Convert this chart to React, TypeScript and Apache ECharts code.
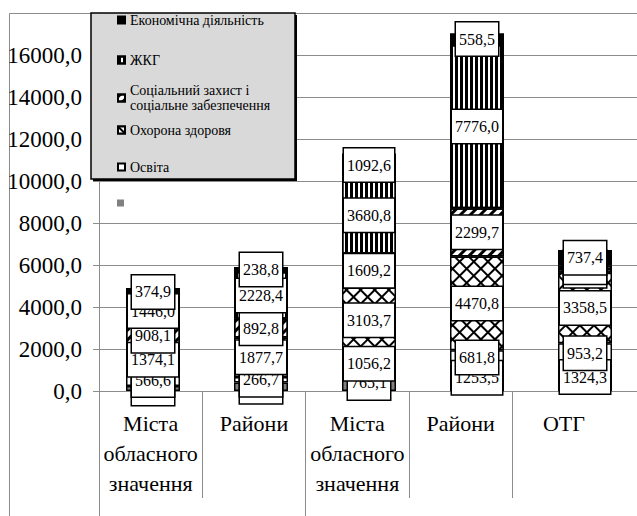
import React, { useEffect, useRef } from 'react';
import * as echarts from 'echarts';

const categories = ['Міста\nобласного\nзначення', 'Райони', 'Міста\nобласного\nзначення', 'Райони', 'ОТГ'];
const seriesNames = [
  'Інші видатки',
  'Освіта',
  'Охорона здоровя',
  'Соціальний захист і соціальне забезпечення',
  'ЖКГ',
  'Економічна діяльність',
];
const otherValues = [235, 400, 765.1, 1253.5, 1324.3];
const educationValues = [566.6, 266.7, 1056.2, 681.8, 953.2];
const healthValues = [1374.1, 1877.7, 3103.7, 4470.8, 3358.5];
const socialValues = [908.1, 892.8, 1609.2, 2299.7, 173.0];
const housingValues = [1446.0, 2228.4, 3680.8, 7776.0, 172.7];
const economyValues = [374.9, 238.8, 1092.6, 558.5, 737.4];
const yMin = 0;
const yMax = 18000;
const yStep = 2000;

const FONT = 'Liberation Serif';
const GREY = '#8c8c8c';

const fmt = (v: number) => v.toFixed(1).replace('.', ',');

export default function App() {
  const ref = useRef<HTMLDivElement>(null);

  useEffect(() => {
    if (!ref.current) return;
    const chart = echarts.init(ref.current, undefined, { renderer: 'svg' });

    const labelStyle = {
      show: true,
      position: 'inside',
      formatter: (p: any) => fmt(p.value),
      fontFamily: FONT,
      fontSize: 16,
      lineHeight: 17,
      color: '#000',
      textBorderWidth: 0,
      backgroundColor: '#fff',
      borderColor: '#000',
      borderWidth: 1.5,
      padding: [8, 3, 8, 3],
    };

    const styles: any[] = [
      { color: '#808080' },
      { color: '#ffffff' },
      {
        color: '#000000',
        decal: {
          symbol: 'rect',
          symbolSize: 0.8,
          color: '#ffffff',
          dashArrayX: [10, 0],
          dashArrayY: [10, 0],
          rotation: Math.PI / 4,
        },
      },
      {
        color: '#ffffff',
        decal: {
          symbol: 'rect',
          symbolSize: 1,
          color: '#000000',
          dashArrayX: [10, 0],
          dashArrayY: [3, 4],
          rotation: -Math.PI / 4,
        },
      },
      {
        color: '#ffffff',
        decal: {
          symbol: 'rect',
          symbolSize: 1,
          color: '#000000',
          dashArrayX: [2.2, 1.8],
          dashArrayY: [10, 0],
          rotation: 0,
        },
      },
      { color: '#000000' },
    ];
    const dataSets = [otherValues, educationValues, healthValues, socialValues, housingValues, economyValues];

    const series = seriesNames.map((name, i) => ({
      type: 'bar',
      name,
      data: dataSets[i],
      stack: 'total',
      barWidth: 54,
      xAxisIndex: 0,
      yAxisIndex: 0,
      itemStyle: { borderColor: '#000', borderWidth: 1.5, ...styles[i] },
      label: labelStyle,
    }));

    const legendBase = {
      left: 117,
      orient: 'vertical',
      padding: 0,
      itemWidth: 7,
      itemHeight: 7,
      icon: 'rect',
      selectedMode: false,
      textStyle: { fontFamily: FONT, fontSize: 14, lineHeight: 15, color: '#000' },
    };

    const legendTops = [12.5, 52.5, 75.5, 122.5, 159.5, 199.5];
    const legendOrder = [5, 4, 3, 2, 1, 0];
    const legends = legendOrder.map((si, k) => {
      const l: any = { ...legendBase, data: [seriesNames[si]], top: legendTops[k] };
      if (si === 3) {
        l.formatter = (n: string) => n.replace(' і ', ' і\n');
        l.textStyle = { ...legendBase.textStyle, padding: [15, 0, 0, 0] };
      }
      if (si === 0) {
        l.formatter = () => '';
        l.itemStyle = { borderWidth: 0 };
      }
      return l;
    });

    const gridBase = { top: 13, height: 378, outerBoundsMode: 'none', containLabel: false };

    chart.setOption({
      animation: false,
      backgroundColor: '#fff',
      textStyle: { fontFamily: FONT },
      grid: [
        { ...gridBase, left: 99, width: 540 },
        { ...gridBase, left: 99, width: 620 },
        { ...gridBase, left: 99, width: 620 },
      ],
      xAxis: [
        {
          gridIndex: 0,
          type: 'category',
          data: categories,
          axisLabel: { show: false },
          axisTick: { show: false },
          axisLine: { show: true, lineStyle: { color: GREY, width: 1 } },
        },
        {
          gridIndex: 1,
          type: 'category',
          data: [...categories, ''],
          axisLine: { show: false },
          axisTick: {
            show: true,
            length: 107,
            interval: (i: number) => i < 5,
            lineStyle: { color: GREY, width: 1 },
          },
          axisLabel: {
            interval: 0,
            margin: 17,
            fontFamily: FONT,
            fontSize: 22,
            lineHeight: 30,
            color: '#000',
          },
        },
        {
          gridIndex: 2,
          type: 'category',
          data: ['', '', ''],
          axisLine: { show: false },
          axisTick: {
            show: true,
            length: 125,
            interval: (i: number) => i < 2,
            lineStyle: { color: GREY, width: 1 },
          },
          axisLabel: { show: false },
        },
      ],
      yAxis: [
        {
          gridIndex: 0,
          type: 'value',
          min: yMin,
          max: yMax,
          interval: yStep,
          axisLine: { show: true, lineStyle: { color: GREY, width: 1 } },
          axisTick: { show: true, length: 6, lineStyle: { color: GREY } },
          splitLine: { show: true, lineStyle: { color: GREY, width: 1 } },
          axisLabel: {
            margin: 17,
            fontFamily: FONT,
            fontSize: 23,
            color: '#000',
            formatter: (v: number) => (v >= yMax ? '' : fmt(v)),
          },
        },
        { gridIndex: 1, type: 'value', show: false },
        { gridIndex: 2, type: 'value', show: false },
      ],
      legend: legends,
      graphic: [
        {
          type: 'rect',
          silent: true,
          z: 0,
          shape: { x: 9.5, y: 13.5, width: 700, height: 600 },
          style: { fill: 'none', stroke: GREY, lineWidth: 1 },
        },
        {
          type: 'rect',
          silent: true,
          z: 3,
          shape: { x: 93, y: 15, width: 204, height: 166 },
          style: { fill: '#000' },
        },
        {
          type: 'rect',
          silent: true,
          z: 3,
          shape: { x: 91, y: 13, width: 204, height: 166 },
          style: { fill: '#d9d9d9', stroke: '#000', lineWidth: 1.5 },
        },
      ],
      series,
    });

    return () => chart.dispose();
  }, []);

  return (
    <div
      ref={ref}
      style={{ position: 'fixed', left: 0, top: 0, width: 637, height: 516, background: '#fff' }}
    />
  );
}
